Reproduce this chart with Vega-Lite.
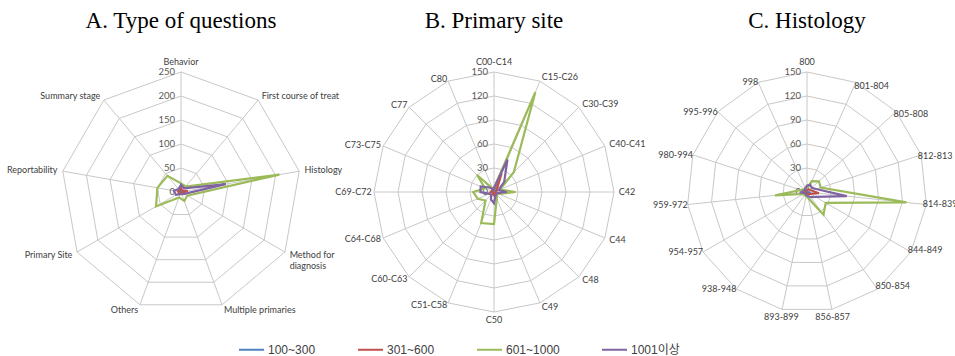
{
  "$schema": "https://vega.github.io/schema/vega-lite/v6.json",
  "padding": {"left": 6, "top": 10, "right": 0, "bottom": 0},
  "background": "white",
  "config": {
    "view": {"stroke": null},
    "title": {"font": "Liberation Serif", "fontSize": 23, "fontWeight": "normal", "color": "#000000", "offset": 14, "anchor": "middle"}
  },
  "spacing": 23,
  "bounds": "flush",
  "datasets": {
    "A": [
      {"idx": 0, "cat": "Behavior", "levels": [0, 50, 100, 150, 200, 250], "100~300": 2, "301~600": 8, "601~1000": 18, "1001이상": 15},
      {"idx": 1, "cat": "First course of treat", "levels": [0, 50, 100, 150, 200, 250], "100~300": 1, "301~600": 4, "601~1000": 15, "1001이상": 10},
      {"idx": 2, "cat": "Histology", "levels": [0, 50, 100, 150, 200, 250], "100~300": 3, "301~600": 14, "601~1000": 208, "1001이상": 95},
      {"idx": 3, "cat": "Method for\ndiagnosis", "levels": [0, 50, 100, 150, 200, 250], "100~300": 1, "301~600": 4, "601~1000": 15, "1001이상": 8},
      {"idx": 4, "cat": "Multiple primaries", "levels": [0, 50, 100, 150, 200, 250], "100~300": 1, "301~600": 3, "601~1000": 20, "1001이상": 5},
      {"idx": 5, "cat": "Others", "levels": [0, 50, 100, 150, 200, 250], "100~300": 1, "301~600": 3, "601~1000": 12, "1001이상": 5},
      {"idx": 6, "cat": "Primary Site", "levels": [0, 50, 100, 150, 200, 250], "100~300": 2, "301~600": 5, "601~1000": 60, "1001이상": 12},
      {"idx": 7, "cat": "Reportability", "levels": [0, 50, 100, 150, 200, 250], "100~300": 2, "301~600": 6, "601~1000": 50, "1001이상": 15},
      {"idx": 8, "cat": "Summary stage", "levels": [0, 50, 100, 150, 200, 250], "100~300": 1, "301~600": 4, "601~1000": 44, "1001이상": 8}
    ],
    "B": [
      {"idx": 0, "cat": "C00-C14", "levels": [0, 30, 60, 90, 120, 150], "100~300": 1, "301~600": 4, "601~1000": 5, "1001이상": 5},
      {"idx": 1, "cat": "C15-C26", "levels": [0, 30, 60, 90, 120, 150], "100~300": 2, "301~600": 25, "601~1000": 135, "1001이상": 44},
      {"idx": 2, "cat": "C30-C39", "levels": [0, 30, 60, 90, 120, 150], "100~300": 1, "301~600": 5, "601~1000": 35, "1001이상": 18},
      {"idx": 3, "cat": "C40-C41", "levels": [0, 30, 60, 90, 120, 150], "100~300": 1, "301~600": 3, "601~1000": 8, "1001이상": 6},
      {"idx": 4, "cat": "C42", "levels": [0, 30, 60, 90, 120, 150], "100~300": 1, "301~600": 3, "601~1000": 27, "1001이상": 16},
      {"idx": 5, "cat": "C44", "levels": [0, 30, 60, 90, 120, 150], "100~300": 1, "301~600": 2, "601~1000": 6, "1001이상": 4},
      {"idx": 6, "cat": "C48", "levels": [0, 30, 60, 90, 120, 150], "100~300": 1, "301~600": 2, "601~1000": 5, "1001이상": 4},
      {"idx": 7, "cat": "C49", "levels": [0, 30, 60, 90, 120, 150], "100~300": 1, "301~600": 2, "601~1000": 9, "1001이상": 5},
      {"idx": 8, "cat": "C50", "levels": [0, 30, 60, 90, 120, 150], "100~300": 2, "301~600": 4, "601~1000": 40, "1001이상": 14},
      {"idx": 9, "cat": "C51-C58", "levels": [0, 30, 60, 90, 120, 150], "100~300": 1, "301~600": 3, "601~1000": 42, "1001이상": 10},
      {"idx": 10, "cat": "C60-C63", "levels": [0, 30, 60, 90, 120, 150], "100~300": 1, "301~600": 2, "601~1000": 15, "1001이상": 5},
      {"idx": 11, "cat": "C64-C68", "levels": [0, 30, 60, 90, 120, 150], "100~300": 1, "301~600": 2, "601~1000": 22, "1001이상": 6},
      {"idx": 12, "cat": "C69-C72", "levels": [0, 30, 60, 90, 120, 150], "100~300": 1, "301~600": 4, "601~1000": 26, "1001이상": 17},
      {"idx": 13, "cat": "C73-C75", "levels": [0, 30, 60, 90, 120, 150], "100~300": 1, "301~600": 3, "601~1000": 12, "1001이상": 18},
      {"idx": 14, "cat": "C77", "levels": [0, 30, 60, 90, 120, 150], "100~300": 1, "301~600": 3, "601~1000": 30, "1001이상": 8},
      {"idx": 15, "cat": "C80", "levels": [0, 30, 60, 90, 120, 150], "100~300": 1, "301~600": 3, "601~1000": 5, "1001이상": 4}
    ],
    "C": [
      {"idx": 0, "cat": "800", "levels": [0, 30, 60, 90, 120, 150], "100~300": 1, "301~600": 3, "601~1000": 5, "1001이상": 8},
      {"idx": 1, "cat": "801-804", "levels": [0, 30, 60, 90, 120, 150], "100~300": 1, "301~600": 4, "601~1000": 15, "1001이상": 10},
      {"idx": 2, "cat": "805-808", "levels": [0, 30, 60, 90, 120, 150], "100~300": 1, "301~600": 4, "601~1000": 20, "1001이상": 8},
      {"idx": 3, "cat": "812-813", "levels": [0, 30, 60, 90, 120, 150], "100~300": 1, "301~600": 6, "601~1000": 18, "1001이상": 12},
      {"idx": 4, "cat": "814-839", "levels": [0, 30, 60, 90, 120, 150], "100~300": 2, "301~600": 15, "601~1000": 125, "1001이상": 50},
      {"idx": 5, "cat": "844-849", "levels": [0, 30, 60, 90, 120, 150], "100~300": 1, "301~600": 5, "601~1000": 27, "1001이상": 12},
      {"idx": 6, "cat": "850-854", "levels": [0, 30, 60, 90, 120, 150], "100~300": 1, "301~600": 3, "601~1000": 35, "1001이상": 8},
      {"idx": 7, "cat": "856-857", "levels": [0, 30, 60, 90, 120, 150], "100~300": 1, "301~600": 2, "601~1000": 8, "1001이상": 5},
      {"idx": 8, "cat": "893-899", "levels": [0, 30, 60, 90, 120, 150], "100~300": 1, "301~600": 2, "601~1000": 5, "1001이상": 4},
      {"idx": 9, "cat": "938-948", "levels": [0, 30, 60, 90, 120, 150], "100~300": 1, "301~600": 2, "601~1000": 5, "1001이상": 3},
      {"idx": 10, "cat": "954-957", "levels": [0, 30, 60, 90, 120, 150], "100~300": 1, "301~600": 2, "601~1000": 5, "1001이상": 3},
      {"idx": 11, "cat": "959-972", "levels": [0, 30, 60, 90, 120, 150], "100~300": 1, "301~600": 3, "601~1000": 40, "1001이상": 7},
      {"idx": 12, "cat": "980-994", "levels": [0, 30, 60, 90, 120, 150], "100~300": 1, "301~600": 2, "601~1000": 8, "1001이상": 5},
      {"idx": 13, "cat": "995-996", "levels": [0, 30, 60, 90, 120, 150], "100~300": 1, "301~600": 2, "601~1000": 5, "1001이상": 4},
      {"idx": 14, "cat": "998", "levels": [0, 30, 60, 90, 120, 150], "100~300": 1, "301~600": 2, "601~1000": 5, "1001이상": 5}
    ]
  },
  "hconcat": [
    {
      "width": 290, "height": 290,
      "title": "A. Type of questions",
      "data": {"name": "A"},
      "transform": [
        {"joinaggregate": [{"op": "count", "as": "n"}]},
        {"calculate": "2*PI*datum.idx/datum.n", "as": "ang"},
        {"calculate": "sin(datum.ang)", "as": "sx"},
        {"calculate": "cos(datum.ang)", "as": "cy"},
        {"calculate": "peek(datum.levels)", "as": "rmax"}
      ],
      "encoding": {
        "x": {"field": "x", "type": "quantitative", "scale": {"domain": [-302, 302], "nice": false, "zero": false}, "axis": null},
        "y": {"field": "y", "type": "quantitative", "scale": {"domain": [-302, 302], "nice": false, "zero": false}, "axis": null}
      },
      "layer": [
        {"transform": [{"flatten": ["levels"], "as": ["lv"]}, {"calculate": "datum.lv*datum.sx", "as": "x"}, {"calculate": "datum.lv*datum.cy", "as": "y"}],
         "mark": {"type": "line", "interpolate": "linear-closed", "stroke": "#c8c8c8", "strokeWidth": 1},
         "encoding": {"detail": {"field": "lv", "type": "nominal"}, "order": {"field": "idx", "type": "quantitative"}}},
        {"transform": [{"calculate": "datum.rmax*datum.sx", "as": "x"}, {"calculate": "datum.rmax*datum.cy", "as": "y"}],
         "mark": {"type": "rule", "stroke": "#c8c8c8", "strokeWidth": 1},
         "encoding": {"x2": {"datum": 0}, "y2": {"datum": 0}}},
        {"transform": [{"filter": "datum.idx == 0"}, {"flatten": ["levels"], "as": ["lv"]}, {"calculate": "0", "as": "x"}, {"calculate": "datum.lv", "as": "y"}],
         "mark": {"type": "text", "align": "right", "baseline": "middle", "dx": -6, "font": "Lato", "fontSize": 9.5, "color": "#595959"},
         "encoding": {"text": {"field": "lv", "type": "quantitative"}}},
        {"transform": [{"filter": "datum.cy > 0.95"}, {"calculate": "1.045*datum.rmax*datum.sx", "as": "x"}, {"calculate": "1.045*datum.rmax*datum.cy", "as": "y"}],
         "mark": {"type": "text", "align": "center", "baseline": "bottom", "font": "Lato", "fontSize": 9, "color": "#404040", "lineBreak": "\n"},
         "encoding": {"text": {"field": "cat", "type": "nominal"}}},
        {"transform": [{"filter": "datum.cy < -0.95"}, {"calculate": "1.045*datum.rmax*datum.sx", "as": "x"}, {"calculate": "1.045*datum.rmax*datum.cy", "as": "y"}],
         "mark": {"type": "text", "align": "center", "baseline": "top", "font": "Lato", "fontSize": 9, "color": "#404040", "lineBreak": "\n"},
         "encoding": {"text": {"field": "cat", "type": "nominal"}}},
        {"transform": [{"filter": "datum.cy <= 0.95 && datum.cy >= -0.95 && datum.sx > 0"}, {"calculate": "1.045*datum.rmax*datum.sx", "as": "x"}, {"calculate": "1.045*datum.rmax*datum.cy", "as": "y"}],
         "mark": {"type": "text", "align": "left", "baseline": "middle", "font": "Lato", "fontSize": 9, "color": "#404040", "lineBreak": "\n"},
         "encoding": {"text": {"field": "cat", "type": "nominal"}}},
        {"transform": [{"filter": "datum.cy <= 0.95 && datum.cy >= -0.95 && datum.sx < 0"}, {"calculate": "1.045*datum.rmax*datum.sx", "as": "x"}, {"calculate": "1.045*datum.rmax*datum.cy", "as": "y"}],
         "mark": {"type": "text", "align": "right", "baseline": "middle", "font": "Lato", "fontSize": 9, "color": "#404040", "lineBreak": "\n"},
         "encoding": {"text": {"field": "cat", "type": "nominal"}}},
        {"transform": [{"fold": ["100~300", "301~600", "601~1000", "1001이상"], "as": ["series", "value"]}, {"calculate": "datum.value*datum.sx", "as": "x"}, {"calculate": "datum.value*datum.cy", "as": "y"}],
         "mark": {"type": "line", "interpolate": "linear-closed", "strokeWidth": 2.2},
         "encoding": {
           "color": {"field": "series", "type": "nominal",
             "scale": {"domain": ["100~300", "301~600", "601~1000", "1001이상"], "range": ["#4F81BD", "#C0504D", "#9BBB59", "#8064A2"]},
             "legend": {"title": null, "orient": "none", "legendX": 202, "legendY": 289, "direction": "horizontal", "symbolType": "stroke", "symbolSize": 625, "symbolStrokeWidth": 2, "labelFont": "Liberation Sans, Noto Sans CJK KR", "labelFontSize": 12, "labelColor": "#404040", "columnPadding": 38, "labelOffset": 3, "padding": 0}},
           "detail": {"field": "series", "type": "nominal"},
           "order": {"field": "idx", "type": "quantitative"}}}
      ]
    },
    {
      "width": 290, "height": 290,
      "title": "B. Primary  site",
      "data": {"name": "B"},
      "transform": [
        {"joinaggregate": [{"op": "count", "as": "n"}]},
        {"calculate": "2*PI*datum.idx/datum.n", "as": "ang"},
        {"calculate": "sin(datum.ang)", "as": "sx"},
        {"calculate": "cos(datum.ang)", "as": "cy"},
        {"calculate": "peek(datum.levels)", "as": "rmax"}
      ],
      "encoding": {
        "x": {"field": "x", "type": "quantitative", "scale": {"domain": [-181.25, 181.25], "nice": false, "zero": false}, "axis": null},
        "y": {"field": "y", "type": "quantitative", "scale": {"domain": [-181.25, 181.25], "nice": false, "zero": false}, "axis": null}
      },
      "layer": [
        {"transform": [{"flatten": ["levels"], "as": ["lv"]}, {"calculate": "datum.lv*datum.sx", "as": "x"}, {"calculate": "datum.lv*datum.cy", "as": "y"}],
         "mark": {"type": "line", "interpolate": "linear-closed", "stroke": "#c8c8c8", "strokeWidth": 1},
         "encoding": {"detail": {"field": "lv", "type": "nominal"}, "order": {"field": "idx", "type": "quantitative"}}},
        {"transform": [{"calculate": "datum.rmax*datum.sx", "as": "x"}, {"calculate": "datum.rmax*datum.cy", "as": "y"}],
         "mark": {"type": "rule", "stroke": "#c8c8c8", "strokeWidth": 1},
         "encoding": {"x2": {"datum": 0}, "y2": {"datum": 0}}},
        {"transform": [{"filter": "datum.idx == 0"}, {"flatten": ["levels"], "as": ["lv"]}, {"calculate": "0", "as": "x"}, {"calculate": "datum.lv", "as": "y"}],
         "mark": {"type": "text", "align": "right", "baseline": "middle", "dx": -6, "font": "Lato", "fontSize": 9.5, "color": "#595959"},
         "encoding": {"text": {"field": "lv", "type": "quantitative"}}},
        {"transform": [{"filter": "datum.cy > 0.95"}, {"calculate": "1.045*datum.rmax*datum.sx", "as": "x"}, {"calculate": "1.045*datum.rmax*datum.cy", "as": "y"}],
         "mark": {"type": "text", "align": "center", "baseline": "bottom", "font": "Lato", "fontSize": 9, "color": "#404040"},
         "encoding": {"text": {"field": "cat", "type": "nominal"}}},
        {"transform": [{"filter": "datum.cy < -0.95"}, {"calculate": "1.03*datum.rmax*datum.sx", "as": "x"}, {"calculate": "1.03*datum.rmax*datum.cy", "as": "y"}],
         "mark": {"type": "text", "align": "center", "baseline": "top", "font": "Lato", "fontSize": 9, "color": "#404040"},
         "encoding": {"text": {"field": "cat", "type": "nominal"}}},
        {"transform": [{"filter": "datum.cy <= 0.95 && datum.cy >= -0.95 && datum.sx > 0"}, {"calculate": "1.04*datum.rmax*datum.sx", "as": "x"}, {"calculate": "1.04*datum.rmax*datum.cy", "as": "y"}],
         "mark": {"type": "text", "align": "left", "baseline": "middle", "font": "Lato", "fontSize": 9, "color": "#404040"},
         "encoding": {"text": {"field": "cat", "type": "nominal"}}},
        {"transform": [{"filter": "datum.cy <= 0.95 && datum.cy >= -0.95 && datum.sx < 0"}, {"calculate": "1.02*datum.rmax*datum.sx", "as": "x"}, {"calculate": "1.02*datum.rmax*datum.cy", "as": "y"}],
         "mark": {"type": "text", "align": "right", "baseline": "middle", "font": "Lato", "fontSize": 9, "color": "#404040"},
         "encoding": {"text": {"field": "cat", "type": "nominal"}}},
        {"transform": [{"fold": ["100~300", "301~600", "601~1000", "1001이상"], "as": ["series", "value"]}, {"calculate": "datum.value*datum.sx", "as": "x"}, {"calculate": "datum.value*datum.cy", "as": "y"}],
         "mark": {"type": "line", "interpolate": "linear-closed", "strokeWidth": 2.2},
         "encoding": {
           "color": {"field": "series", "type": "nominal"},
           "detail": {"field": "series", "type": "nominal"},
           "order": {"field": "idx", "type": "quantitative"}}}
      ]
    },
    {
      "width": 290, "height": 290,
      "title": "C. Histology",
      "data": {"name": "C"},
      "transform": [
        {"joinaggregate": [{"op": "count", "as": "n"}]},
        {"calculate": "2*PI*datum.idx/datum.n", "as": "ang"},
        {"calculate": "sin(datum.ang)", "as": "sx"},
        {"calculate": "cos(datum.ang)", "as": "cy"},
        {"calculate": "peek(datum.levels)", "as": "rmax"}
      ],
      "encoding": {
        "x": {"field": "x", "type": "quantitative", "scale": {"domain": [-181.25, 181.25], "nice": false, "zero": false}, "axis": null},
        "y": {"field": "y", "type": "quantitative", "scale": {"domain": [-181.25, 181.25], "nice": false, "zero": false}, "axis": null}
      },
      "layer": [
        {"transform": [{"flatten": ["levels"], "as": ["lv"]}, {"calculate": "datum.lv*datum.sx", "as": "x"}, {"calculate": "datum.lv*datum.cy", "as": "y"}],
         "mark": {"type": "line", "interpolate": "linear-closed", "stroke": "#c8c8c8", "strokeWidth": 1},
         "encoding": {"detail": {"field": "lv", "type": "nominal"}, "order": {"field": "idx", "type": "quantitative"}}},
        {"transform": [{"calculate": "datum.rmax*datum.sx", "as": "x"}, {"calculate": "datum.rmax*datum.cy", "as": "y"}],
         "mark": {"type": "rule", "stroke": "#c8c8c8", "strokeWidth": 1},
         "encoding": {"x2": {"datum": 0}, "y2": {"datum": 0}}},
        {"transform": [{"filter": "datum.idx == 0"}, {"flatten": ["levels"], "as": ["lv"]}, {"calculate": "0", "as": "x"}, {"calculate": "datum.lv", "as": "y"}],
         "mark": {"type": "text", "align": "right", "baseline": "middle", "dx": -6, "font": "Lato", "fontSize": 9.5, "color": "#595959"},
         "encoding": {"text": {"field": "lv", "type": "quantitative"}}},
        {"transform": [{"filter": "datum.cy > 0.95"}, {"calculate": "1.045*datum.rmax*datum.sx", "as": "x"}, {"calculate": "1.045*datum.rmax*datum.cy", "as": "y"}],
         "mark": {"type": "text", "align": "center", "baseline": "bottom", "font": "Lato", "fontSize": 9, "color": "#404040"},
         "encoding": {"text": {"field": "cat", "type": "nominal"}}},
        {"transform": [{"filter": "datum.cy < -0.95"}, {"calculate": "1.03*datum.rmax*datum.sx", "as": "x"}, {"calculate": "1.03*datum.rmax*datum.cy", "as": "y"}],
         "mark": {"type": "text", "align": "center", "baseline": "top", "font": "Lato", "fontSize": 9, "color": "#404040"},
         "encoding": {"text": {"field": "cat", "type": "nominal"}}},
        {"transform": [{"filter": "datum.cy <= 0.95 && datum.cy >= -0.95 && datum.sx > 0"}, {"calculate": "0.97*datum.rmax*datum.sx", "as": "x"}, {"calculate": "0.97*datum.rmax*datum.cy", "as": "y"}],
         "mark": {"type": "text", "align": "left", "baseline": "middle", "font": "Lato", "fontSize": 9, "color": "#404040"},
         "encoding": {"text": {"field": "cat", "type": "nominal"}}},
        {"transform": [{"filter": "datum.cy <= 0.95 && datum.cy >= -0.95 && datum.sx < 0"}, {"calculate": "1.0*datum.rmax*datum.sx", "as": "x"}, {"calculate": "1.0*datum.rmax*datum.cy", "as": "y"}],
         "mark": {"type": "text", "align": "right", "baseline": "middle", "font": "Lato", "fontSize": 9, "color": "#404040"},
         "encoding": {"text": {"field": "cat", "type": "nominal"}}},
        {"transform": [{"fold": ["100~300", "301~600", "601~1000", "1001이상"], "as": ["series", "value"]}, {"calculate": "datum.value*datum.sx", "as": "x"}, {"calculate": "datum.value*datum.cy", "as": "y"}],
         "mark": {"type": "line", "interpolate": "linear-closed", "strokeWidth": 2.2},
         "encoding": {
           "color": {"field": "series", "type": "nominal"},
           "detail": {"field": "series", "type": "nominal"},
           "order": {"field": "idx", "type": "quantitative"}}}
      ]
    }
  ]
}
